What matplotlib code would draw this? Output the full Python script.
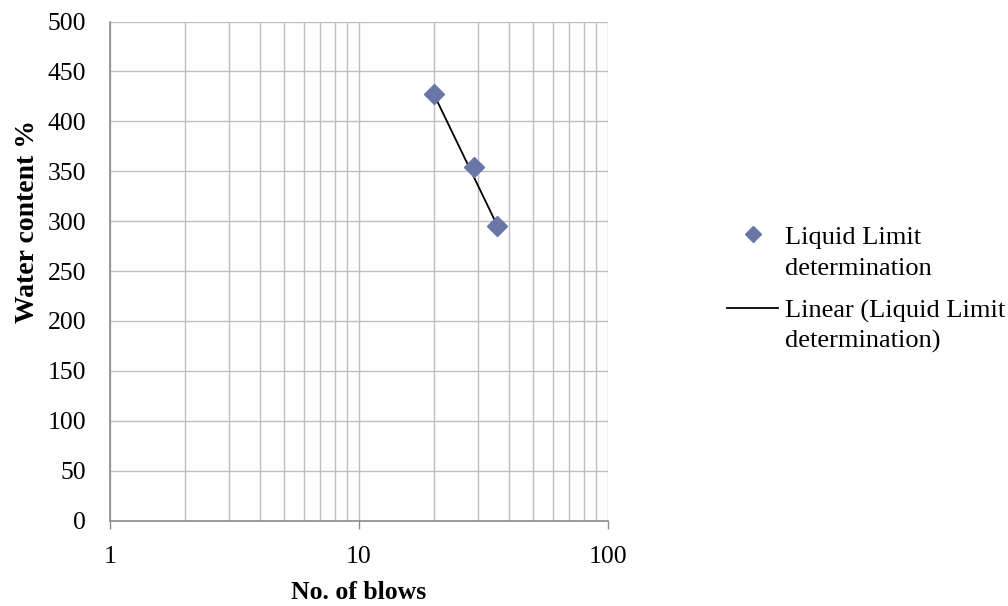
"""Liquid limit determination: water content vs number of blows (log x)."""
import numpy as np
import matplotlib
matplotlib.use("Agg")
import matplotlib.pyplot as plt
from matplotlib.lines import Line2D
from matplotlib.ticker import LogLocator, FixedLocator, NullFormatter

# data
blows = [20, 29, 36]
water_content = [427, 354, 295]

x_ticks = [1, 10, 100]
x_tick_labels = ["1", "10", "100"]
y_ticks = list(range(0, 501, 50))

MARKER_COLOR = "#6A76A6"
GRID_COLOR = "#BFBFBF"
AXIS_COLOR = "#8C8C8C"
FS = 18.5

plt.rcParams["font.family"] = ["Liberation Serif", "DejaVu Serif"]
plt.rcParams["font.size"] = FS

fig = plt.figure(figsize=(10.08, 6.06), dpi=100)
ax = fig.add_axes([0.109, 0.141, 0.494, 0.8234])

ax.set_xscale("log")
ax.set_xlim(1, 100)
ax.set_ylim(0, 500)

# Excel "Linear" trendline, drawn straight between the end points of the data span
a, b = np.polyfit(blows, water_content, 1)
xs = np.array([min(blows), max(blows)])
ax.plot(xs, a * xs + b, color="black", lw=1.3, zorder=3)

ax.plot(blows, water_content, ls="none", marker="D", ms=9.8,
        color=MARKER_COLOR, mec=MARKER_COLOR, zorder=4)

# grid: horizontal every 50, vertical at every log tick
ax.set_yticks(y_ticks)
ax.xaxis.set_major_locator(FixedLocator(x_ticks))
ax.set_xticklabels(x_tick_labels)
ax.xaxis.set_minor_locator(LogLocator(base=10, subs=np.arange(2, 10)))
ax.xaxis.set_minor_formatter(NullFormatter())
ax.grid(True, which="both", axis="x", color=GRID_COLOR, lw=1.0)
ax.grid(True, which="major", axis="y", color=GRID_COLOR, lw=1.0)
ax.set_axisbelow(True)

for side in ["top", "right"]:
    ax.spines[side].set_visible(False)
for side in ["left", "bottom"]:
    ax.spines[side].set_color(AXIS_COLOR)
    ax.spines[side].set_linewidth(1.2)

ax.tick_params(axis="x", which="major", direction="out", length=6,
               color=AXIS_COLOR, width=1.0, labelsize=FS, pad=12)
ax.tick_params(axis="x", which="minor", length=0)
ax.tick_params(axis="y", length=0, labelsize=FS, pad=17)

ax.set_xlabel("No. of blows", fontsize=FS, fontweight="bold", labelpad=10)
ax.set_ylabel("Water content %", fontsize=20, fontweight="bold")
ax.yaxis.set_label_coords(-0.140, 0.600)

# legend drawn by hand: Excel puts the key next to the first line of each wrapped label
LEG_FS = 19
TEXT_X = 0.7784
fig.add_artist(Line2D([0.747], [0.6133], transform=fig.transFigure, ls="none",
                      marker="D", ms=8.5, color=MARKER_COLOR))
fig.add_artist(Line2D([0.7212, 0.7723], [0.4911, 0.4911], transform=fig.transFigure,
                      color="black", lw=1.3))
legend_lines = [("Liquid Limit", 0.5967), ("determination", 0.5467),
                ("Linear (Liquid Limit", 0.4756), ("determination)", 0.4257)]
for txt, y in legend_lines:
    fig.text(TEXT_X, y, txt, fontsize=LEG_FS, ha="left", va="baseline")

fig.savefig("out.png", dpi=100)
